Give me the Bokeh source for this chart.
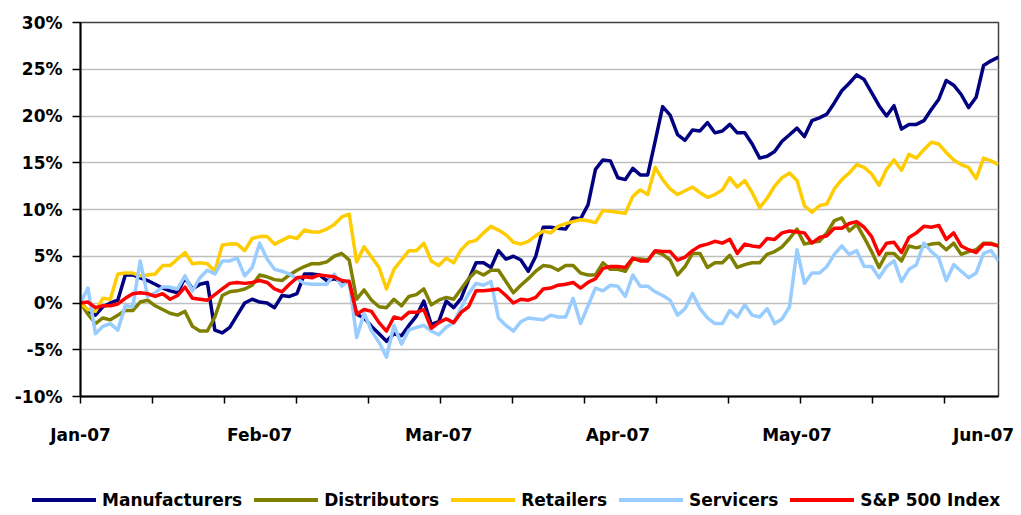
from bokeh.plotting import figure
from bokeh.models import Range1d, FixedTicker, PrintfTickFormatter, Div
from bokeh.layouts import column
from bokeh.embed import file_html
from bokeh.resources import INLINE

# ---------------- data (percent change since 3 Jan 2007, one value per trading day) ----------------
series_names = ["Manufacturers", "Distributors", "Retailers", "Servicers", "S&P 500 Index"]
series_colors = ["#000080", "#808000", "#FFCC00", "#99CCFF", "#FF0000"]

manufacturers = [
    0.0, -0.8, -1.3, -0.4, 0.0, 0.3, 3.0, 3.0, 2.7, 2.4,
    2.0, 1.6, 1.3, 1.1, 2.7, 1.5, 2.0, 2.2, -2.9, -3.2,
    -2.6, -1.3, 0.0, 0.4, 0.1, 0.0, -0.5, 0.8, 0.7, 1.0,
    3.1, 3.1, 3.0, 2.4, 2.6, 2.3, 2.2, -1.2, -1.6, -2.5,
    -3.3, -4.1, -3.3, -3.5, -2.4, -1.4, 0.2, -2.3, -2.0, 0.2,
    -0.5, 0.5, 2.5, 4.3, 4.3, 3.8, 5.6, 4.7, 5.0, 4.6,
    3.4, 5.0, 8.1, 8.1, 8.0, 7.9, 9.1, 9.0, 10.5, 14.3,
    15.3, 15.2, 13.4, 13.2, 14.4, 13.7, 13.7, 17.3, 21.0, 20.1,
    18.0, 17.4, 18.5, 18.4, 19.3, 18.2, 18.4, 19.1, 18.2, 18.2,
    17.0, 15.5, 15.7, 16.2, 17.3, 18.0, 18.7, 17.8, 19.5, 19.8,
    20.2, 21.4, 22.7, 23.5, 24.4, 23.9, 22.5, 21.1, 20.0, 21.1,
    18.6, 19.1, 19.1, 19.5, 20.7, 21.8, 23.8, 23.3, 22.3, 20.9,
    22.0, 25.4, 25.9, 26.3,
]

distributors = [
    0.0, -1.2, -2.2, -1.6, -1.8, -1.3, -0.8, -0.8, 0.1, 0.3,
    -0.3, -0.7, -1.1, -1.3, -0.9, -2.5, -3.0, -3.0, -1.5, 0.8,
    1.2, 1.3, 1.5, 1.9, 3.0, 2.8, 2.5, 2.4, 3.0, 3.5,
    3.9, 4.2, 4.2, 4.4, 5.0, 5.3, 4.6, 0.4, 1.4, 0.3,
    -0.4, -0.5, 0.4, -0.3, 0.7, 0.9, 1.5, -0.2, 0.3, 0.6,
    0.4, 1.5, 2.6, 3.4, 3.0, 3.5, 3.5, 2.3, 1.1, 1.9,
    2.6, 3.4, 4.0, 3.9, 3.5, 4.0, 4.0, 3.2, 3.0, 3.0,
    4.3, 3.6, 3.6, 3.4, 4.7, 4.7, 4.6, 5.5, 5.2, 4.6,
    3.0, 3.9, 5.3, 5.3, 3.8, 4.3, 4.3, 5.1, 3.8, 4.1,
    4.3, 4.3, 5.2, 5.5, 6.0, 6.9, 7.9, 6.3, 6.5, 6.6,
    7.5, 8.8, 9.1, 7.7, 8.4, 7.0, 5.5, 3.8, 5.3, 5.3,
    4.5, 6.1, 5.9, 6.1, 6.3, 6.4, 5.7, 6.4, 5.2, 5.5,
    5.7, 6.4, 6.4, 6.1,
]

retailers = [
    0.0, -0.7, -0.9, 0.5, 0.4, 3.1, 3.2, 3.2, 2.9, 3.0,
    3.1, 4.0, 4.0, 4.7, 5.4, 4.2, 4.3, 4.2, 3.4, 6.2,
    6.3, 6.3, 5.6, 6.9, 7.1, 7.1, 6.3, 6.7, 7.1, 6.9,
    7.8, 7.6, 7.6, 7.9, 8.4, 9.2, 9.5, 4.4, 6.0, 4.9,
    3.8, 1.5, 3.6, 4.6, 5.6, 5.6, 6.4, 4.5, 4.0, 4.8,
    4.3, 5.7, 6.5, 6.7, 7.5, 8.2, 7.8, 7.3, 6.5, 6.3,
    6.6, 7.2, 7.7, 7.5, 8.2, 8.5, 8.7, 8.9, 8.8, 8.6,
    9.9, 9.8, 9.7, 9.6, 11.4, 12.1, 11.6, 14.5, 13.2, 12.2,
    11.6, 12.0, 12.4, 11.8, 11.3, 11.6, 12.1, 13.4, 12.4, 13.1,
    11.8, 10.2, 11.2, 12.5, 13.4, 13.9, 13.1, 10.4, 9.7, 10.4,
    10.6, 12.2, 13.2, 13.9, 14.8, 14.5, 13.8, 12.6, 14.3, 15.3,
    14.2, 15.9, 15.5, 16.4, 17.2, 17.0, 16.1, 15.3, 14.8, 14.5,
    13.3, 15.5, 15.2, 14.8,
]

servicers = [
    0.0, 1.6, -3.3, -2.5, -2.2, -2.9, -0.3, -0.4, 4.5, 0.7,
    1.1, 1.7, 1.7, 1.5, 2.9, 1.3, 2.7, 3.5, 3.1, 4.5,
    4.5, 4.8, 2.9, 3.8, 6.4, 4.7, 3.6, 3.4, 3.1, 2.6,
    2.1, 2.0, 2.0, 2.0, 3.1, 1.8, 2.4, -3.7, -1.1, -3.0,
    -4.2, -5.8, -2.4, -4.4, -2.9, -2.6, -2.4, -3.0, -3.4, -2.6,
    -2.1, -0.5, 1.0, 2.1, 1.9, 2.3, -1.6, -2.4, -3.0, -2.0,
    -1.6, -1.7, -1.8, -1.3, -1.5, -1.5, 0.5, -2.2, -0.3, 1.6,
    1.3, 1.9, 1.8, 0.7, 3.0, 1.8, 1.8, 1.2, 0.8, 0.3,
    -1.3, -0.6, 1.0, -0.6, -1.6, -2.2, -2.2, -0.8, -1.5, -0.2,
    -1.3, -1.5, -0.6, -2.2, -1.7, -0.4, 5.7, 2.1, 3.2, 3.2,
    3.9, 5.2, 6.1, 5.2, 5.6, 3.9, 3.9, 2.7, 3.9, 4.5,
    2.3, 3.6, 4.1, 6.4, 5.5, 4.8, 2.4, 4.1, 3.4, 2.7,
    3.2, 5.3, 5.6, 4.5,
]

sp500 = [
    0.0, 0.1, -0.5, -0.3, -0.3, -0.1, 0.5, 1.0, 1.1, 1.0,
    0.7, 1.0, 0.4, 0.8, 1.7, 0.5, 0.4, 0.3, 0.9, 1.5,
    2.1, 2.2, 2.1, 2.2, 2.4, 2.2, 1.5, 1.2, 2.0, 2.7,
    2.8, 2.7, 3.0, 2.9, 2.8, 2.4, 2.3, -1.2, -0.7, -0.9,
    -2.1, -3.0, -1.5, -1.7, -1.0, -1.0, -0.7, -2.7, -2.1, -1.7,
    -2.1, -1.0, -0.4, 1.3, 1.3, 1.4, 1.5, 0.8, 0.0, 0.4,
    0.3, 0.6, 1.5, 1.6, 1.9, 2.0, 2.2, 1.6, 2.2, 2.6,
    3.7, 3.9, 3.9, 3.8, 4.8, 4.5, 4.5, 5.6, 5.5, 5.5,
    4.6, 4.9, 5.6, 6.1, 6.3, 6.6, 6.4, 6.8, 5.3, 6.3,
    6.1, 6.0, 6.9, 6.8, 7.5, 7.7, 7.6, 7.5, 6.4, 7.0,
    7.2, 8.0, 8.0, 8.5, 8.7, 8.1, 7.1, 5.2, 6.4, 6.5,
    5.4, 7.0, 7.5, 8.2, 8.1, 8.3, 6.8, 7.5, 6.1, 5.7,
    5.4, 6.3, 6.3, 6.1,
]

month_labels = ["Jan-07", "Feb-07", "Mar-07", "Apr-07", "May-07", "Jun-07"]
month_label_pos = [0, 24, 48, 72, 96, 121]
tick_mark_pos = [0, 9.65, 19.3, 28.95, 38.6, 48.25, 57.9, 67.55, 77.2, 86.85, 96.5, 106.15, 115.8]
y_ticks = [-10, -5, 0, 5, 10, 15, 20, 25, 30]

all_series = [manufacturers, distributors, retailers, servicers, sp500]
day_index = list(range(len(sp500)))

FONT = "DejaVu Sans"
W = 1021
H_CHART = 460
H_LEGEND = 55

# ---------------- main chart ----------------
p = figure(width=W, height=H_CHART, output_backend="svg", toolbar_location=None,
           x_range=Range1d(0, 123), y_range=Range1d(-10, 30),
           min_border_left=80, min_border_right=23, min_border_top=22, min_border_bottom=64,
           background_fill_color="white", border_fill_color="white")

p.outline_line_color = "#404040"
p.outline_line_width = 1.5

p.xaxis.ticker = FixedTicker(ticks=month_label_pos, minor_ticks=tick_mark_pos)
p.xaxis.major_label_overrides = {pos: lab for pos, lab in zip(month_label_pos, month_labels)}
p.xaxis.major_tick_out = 0
p.xaxis.major_tick_in = 0
p.xaxis.minor_tick_out = 7
p.xaxis.minor_tick_in = 0
p.xaxis.minor_tick_line_color = "black"
p.xaxis.minor_tick_line_width = 1.5
p.xaxis.axis_line_color = "black"
p.xaxis.axis_line_width = 2
p.xaxis.major_label_standoff = 21

p.yaxis.ticker = FixedTicker(ticks=y_ticks)
p.yaxis.formatter = PrintfTickFormatter(format="%d%%")
p.yaxis.major_tick_out = 8
p.yaxis.major_tick_in = 0
p.yaxis.major_tick_line_color = "black"
p.yaxis.major_tick_line_width = 1.5
p.yaxis.minor_tick_line_color = None
p.yaxis.axis_line_color = "black"
p.yaxis.axis_line_width = 2
p.yaxis.major_label_standoff = 10

for ax in (p.xaxis, p.yaxis):
    ax.major_label_text_font = FONT
    ax.major_label_text_font_style = "bold"
    ax.major_label_text_font_size = "17px"
    ax.major_label_text_color = "black"

p.xgrid.grid_line_color = None
p.ygrid.ticker = FixedTicker(ticks=y_ticks)
p.ygrid.grid_line_color = "#BFBFBF"
p.ygrid.grid_line_width = 1.5

for name, color, vals in zip(series_names, series_colors, all_series):
    p.line(day_index, vals, line_color=color, line_width=3.5, line_join="round")

# ---------------- legend strip (HTML, built from the series names and colours) ----------------
item_html = "".join(
    '<span style="display:inline-flex;align-items:center;margin-right:12px;">'
    f'<span style="display:inline-block;width:64px;height:4px;background:{c};margin-right:6px;"></span>'
    f'{n.replace("&", "&amp;")}</span>'
    for n, c in zip(series_names, series_colors)
)
legend_html = (
    f'<div style="position:relative;width:{W}px;height:{H_LEGEND}px;background:white;">'
    '<div style="position:absolute;left:32px;top:30px;display:flex;align-items:center;'
    'white-space:nowrap;font-family:\'DejaVu Sans\';font-weight:bold;font-size:17px;'
    'line-height:20px;color:black;">'
    f'{item_html}</div></div>'
)
legend_div = Div(text=legend_html, width=W, height=H_LEGEND, margin=0)

open("out.html", "w").write(file_html(column(p, legend_div, spacing=0), INLINE))
